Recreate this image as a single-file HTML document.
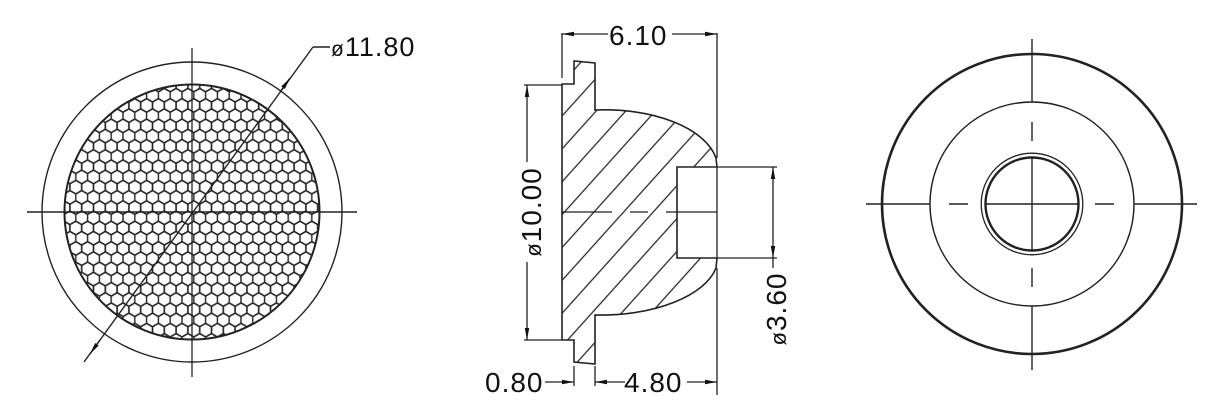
<!DOCTYPE html>
<html><head><meta charset="utf-8"><style>
html,body{margin:0;padding:0;background:#fff;}
svg{display:block;}
text{font-family:"Liberation Sans",sans-serif;fill:#111;}
</style></head><body>
<svg width="1217" height="413" viewBox="0 0 1217 413" xmlns="http://www.w3.org/2000/svg">
<defs>
<pattern id="hex" patternUnits="userSpaceOnUse" x="64" y="85" width="11.8" height="20.43">
<g fill="none" stroke="#222" stroke-width="1.4">
<path d="M0,-6.81 L5.9,-3.405 L5.9,3.405 L0,6.81 L-5.9,3.405 L-5.9,-3.405Z"/>
<path d="M11.8,-6.81 L17.7,-3.405 L17.7,3.405 L11.8,6.81 L5.9,3.405 L5.9,-3.405Z"/>
<path d="M5.9,3.405 L11.8,6.81 L11.8,13.62 L5.9,17.025 L0,13.62 L0,6.81Z"/>
<path d="M0,13.62 L5.9,17.025 L5.9,23.835 L0,27.24 L-5.9,23.835 L-5.9,17.025Z"/>
<path d="M11.8,13.62 L17.7,17.025 L17.7,23.835 L11.8,27.24 L5.9,23.835 L5.9,17.025Z"/>
</g>
</pattern>
<pattern id="hatch" patternUnits="userSpaceOnUse" width="22" height="22" patternTransform="rotate(-48 560 60)">
<line x1="0" y1="11" x2="22" y2="11" stroke="#222" stroke-width="1.2"/>
</pattern>
<clipPath id="ic"><circle cx="192" cy="212" r="127.5"/></clipPath>
<marker id="ar" viewBox="0 0 12 6" refX="12" refY="3" markerWidth="12" markerHeight="6" markerUnits="userSpaceOnUse" orient="auto">
<path d="M0,0.8 L12,3 L0,5.2Z" fill="#111"/>
</marker>
</defs>

<!-- LEFT VIEW -->
<g stroke="#222" fill="none" stroke-width="1.4">
<circle cx="192" cy="212" r="150"/>
<rect x="60" y="80" width="265" height="265" fill="url(#hex)" stroke="none" clip-path="url(#ic)"/>
<circle cx="192" cy="212" r="127.5" stroke-width="2"/>
<line x1="27" y1="212" x2="357" y2="212" stroke-width="1.6"/>
<line x1="192" y1="48" x2="192" y2="377" stroke-width="1.3"/>
<line x1="84" y1="362" x2="313" y2="47" stroke-width="1.4"/>
<line x1="100" y1="340" x2="90" y2="354" marker-end="url(#ar)"/>
<line x1="280" y1="92" x2="290" y2="78" marker-end="url(#ar)"/>
<line x1="313" y1="47" x2="330" y2="47"/>
</g>
<text x="331" y="56" font-size="27" letter-spacing="1"><tspan font-size="21">ø</tspan>11.80</text>

<!-- MIDDLE VIEW -->
<path d="M562,84 L574,84 L574,61 L595,63 L595,110 C655,108 705,128 716,158 L717,167 L677,167 L677,258 L717,258 L716,268 C705,296 655,316 595,315 L595,364 L574,362 L574,340 L562,340 Z" fill="url(#hatch)" stroke="#222" stroke-width="1.6"/>
<g stroke="#222" fill="none" stroke-width="1.3">
<path d="M562,212 H612 M630,212 H648 M666,212 H717"/>
<line x1="562" y1="33" x2="562" y2="78"/>
<line x1="717" y1="33" x2="717" y2="158"/>
<line x1="717" y1="268" x2="717" y2="395"/>
<line x1="717" y1="167" x2="717" y2="258"/>
<line x1="608" y1="34" x2="562" y2="34" marker-end="url(#ar)"/>
<line x1="672" y1="34" x2="717" y2="34" marker-end="url(#ar)"/>
<line x1="562" y1="85" x2="524" y2="85"/>
<line x1="562" y1="340" x2="524" y2="340"/>
<line x1="527" y1="162" x2="527" y2="85" marker-end="url(#ar)"/>
<line x1="527" y1="262" x2="527" y2="340" marker-end="url(#ar)"/>
<line x1="717" y1="167" x2="777" y2="167"/>
<line x1="717" y1="258" x2="777" y2="258"/>
<line x1="773" y1="215" x2="773" y2="167" marker-end="url(#ar)"/>
<line x1="773" y1="215" x2="773" y2="258" marker-end="url(#ar)"/>
<line x1="773" y1="258" x2="773" y2="268"/>
<line x1="574" y1="366" x2="574" y2="386"/>
<line x1="595" y1="366" x2="595" y2="386"/>
<line x1="545" y1="382" x2="574" y2="382" marker-end="url(#ar)"/>
<line x1="625" y1="382" x2="595" y2="382" marker-end="url(#ar)"/>
<line x1="687" y1="382" x2="717" y2="382" marker-end="url(#ar)"/>
</g>
<text x="609" y="45" font-size="28" letter-spacing="1">6.10</text>
<text x="485" y="392" font-size="28" letter-spacing="1">0.80</text>
<text x="624" y="392" font-size="28" letter-spacing="1">4.80</text>
<text transform="translate(541,212) rotate(-90)" text-anchor="middle" font-size="28" letter-spacing="1"><tspan font-size="22">ø</tspan>10.00</text>
<text transform="translate(786,309) rotate(-90)" text-anchor="middle" font-size="28" letter-spacing="1"><tspan font-size="22">ø</tspan>3.60</text>

<!-- RIGHT VIEW -->
<g stroke="#222" fill="none">
<circle cx="1032" cy="204" r="150" stroke-width="2.6"/>
<circle cx="1032" cy="204" r="102" stroke-width="1.4"/>
<circle cx="1032" cy="204" r="50.8" stroke-width="1.3"/>
<circle cx="1032" cy="204" r="46.5" stroke-width="2.4"/>
<g stroke-width="1.4">
<path d="M866,204 H930 M949,204 H968 M985.5,204 H1078.5 M1095,204 H1114 M1134,204 H1197"/>
<path d="M1032,39 V102 M1032,122 V141 M1032,157.5 V250.5 M1032,268 V287 M1032,306 V370"/>
</g>
</g>
</svg>
</body></html>
